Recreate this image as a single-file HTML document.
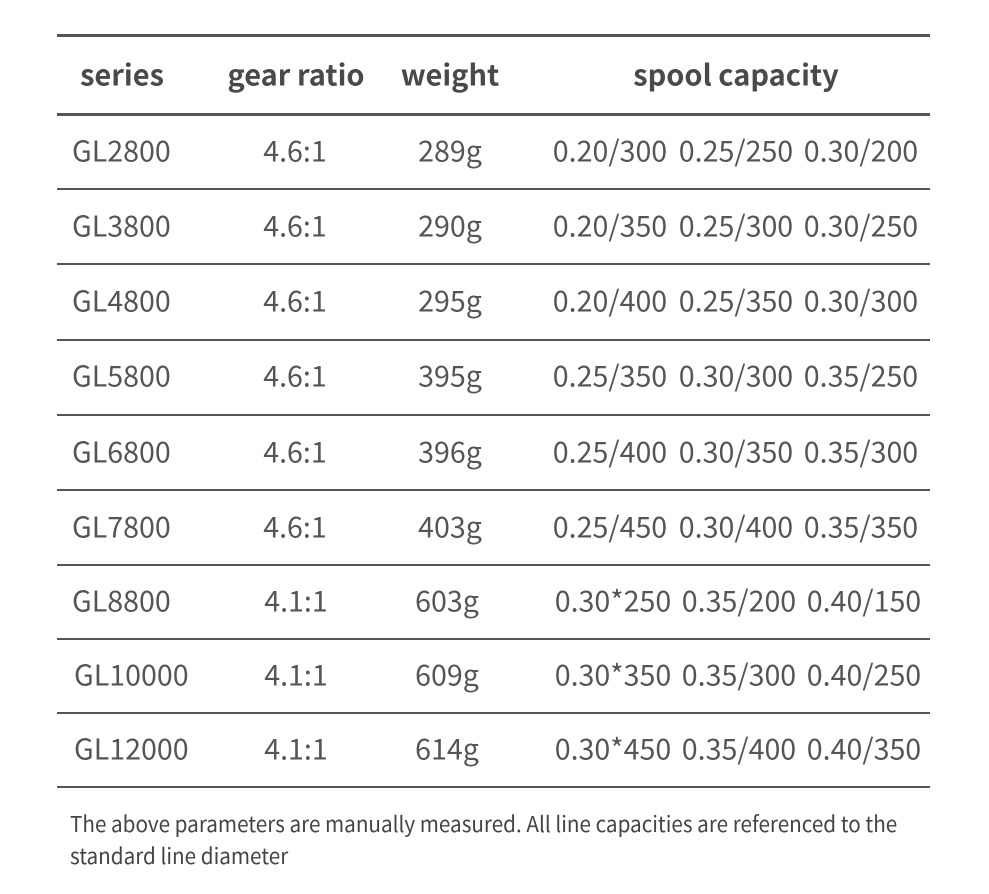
<!DOCTYPE html>
<html><head><meta charset="utf-8"><style>
html,body{margin:0;padding:0;background:#fff;}
body{width:989px;height:894px;position:relative;overflow:hidden;font-family:"Noto Sans CJK SC","Liberation Sans",sans-serif;color:#555;}
.l{position:absolute;left:57px;width:873px;background:#555;}
.t{position:absolute;transform:translate(-50%,-50%);white-space:nowrap;font-size:28.6px;line-height:1;}
.s{position:absolute;transform:translateY(-50%);white-space:nowrap;font-size:28.6px;line-height:1;}
.h{font-weight:bold;font-size:29px;color:#4a4a4a;}
.f{position:absolute;left:70px;font-size:22px;line-height:1;white-space:nowrap;transform-origin:left center;transform:scaleX(0.94);color:#444;}
</style></head><body>
<div class="l" style="top:34px;height:3px"></div>
<div class="l" style="top:113px;height:3px"></div>
<div class="l" style="top:188px;height:1.5px"></div>
<div class="l" style="top:263px;height:1.5px"></div>
<div class="l" style="top:339px;height:1.5px"></div>
<div class="l" style="top:414px;height:1.5px"></div>
<div class="l" style="top:489px;height:1.5px"></div>
<div class="l" style="top:564px;height:1.5px"></div>
<div class="l" style="top:638px;height:1.5px"></div>
<div class="l" style="top:712px;height:1.5px"></div>
<div class="l" style="top:786px;height:1.5px"></div>

<div class="t h" style="left:122px;top:74px">series</div>
<div class="t h" style="left:296px;top:74px">gear ratio</div>
<div class="t h" style="left:450px;top:74px">weight</div>
<div class="t h" style="left:736px;top:74px">spool capacity</div>

<div class="s" style="left:72px;top:151px">GL2800</div><div class="t" style="left:295px;top:151px">4.6:1</div><div class="t" style="left:450px;top:151px">289g</div><div class="t" style="left:610px;top:151px">0.20/300</div><div class="t" style="left:736px;top:151px">0.25/250</div><div class="t" style="left:861px;top:151px">0.30/200</div>
<div class="s" style="left:72px;top:226px">GL3800</div><div class="t" style="left:295px;top:226px">4.6:1</div><div class="t" style="left:450px;top:226px">290g</div><div class="t" style="left:610px;top:226px">0.20/350</div><div class="t" style="left:736px;top:226px">0.25/300</div><div class="t" style="left:861px;top:226px">0.30/250</div>
<div class="s" style="left:72px;top:301px">GL4800</div><div class="t" style="left:295px;top:301px">4.6:1</div><div class="t" style="left:450px;top:301px">295g</div><div class="t" style="left:610px;top:301px">0.20/400</div><div class="t" style="left:736px;top:301px">0.25/350</div><div class="t" style="left:861px;top:301px">0.30/300</div>
<div class="s" style="left:72px;top:376px">GL5800</div><div class="t" style="left:295px;top:376px">4.6:1</div><div class="t" style="left:450px;top:376px">395g</div><div class="t" style="left:610px;top:376px">0.25/350</div><div class="t" style="left:736px;top:376px">0.30/300</div><div class="t" style="left:861px;top:376px">0.35/250</div>
<div class="s" style="left:72px;top:452px">GL6800</div><div class="t" style="left:295px;top:452px">4.6:1</div><div class="t" style="left:450px;top:452px">396g</div><div class="t" style="left:610px;top:452px">0.25/400</div><div class="t" style="left:736px;top:452px">0.30/350</div><div class="t" style="left:861px;top:452px">0.35/300</div>
<div class="s" style="left:72px;top:527px">GL7800</div><div class="t" style="left:295px;top:527px">4.6:1</div><div class="t" style="left:450px;top:527px">403g</div><div class="t" style="left:610px;top:527px">0.25/450</div><div class="t" style="left:736px;top:527px">0.30/400</div><div class="t" style="left:861px;top:527px">0.35/350</div>
<div class="s" style="left:72px;top:601px">GL8800</div><div class="t" style="left:296px;top:601px">4.1:1</div><div class="t" style="left:447px;top:601px">603g</div><div class="t" style="left:613px;top:601px">0.30*250</div><div class="t" style="left:739px;top:601px">0.35/200</div><div class="t" style="left:864px;top:601px">0.40/150</div>
<div class="s" style="left:74px;top:675px">GL10000</div><div class="t" style="left:296px;top:675px">4.1:1</div><div class="t" style="left:447px;top:675px">609g</div><div class="t" style="left:613px;top:675px">0.30*350</div><div class="t" style="left:739px;top:675px">0.35/300</div><div class="t" style="left:864px;top:675px">0.40/250</div>
<div class="s" style="left:74px;top:749px">GL12000</div><div class="t" style="left:296px;top:749px">4.1:1</div><div class="t" style="left:447px;top:749px">614g</div><div class="t" style="left:613px;top:749px">0.30*450</div><div class="t" style="left:739px;top:749px">0.35/400</div><div class="t" style="left:864px;top:749px">0.40/350</div>

<div class="f" style="top:812px">The above parameters are manually measured. All line capacities are referenced to the</div>
<div class="f" style="top:844px">standard line diameter</div>
</body></html>
